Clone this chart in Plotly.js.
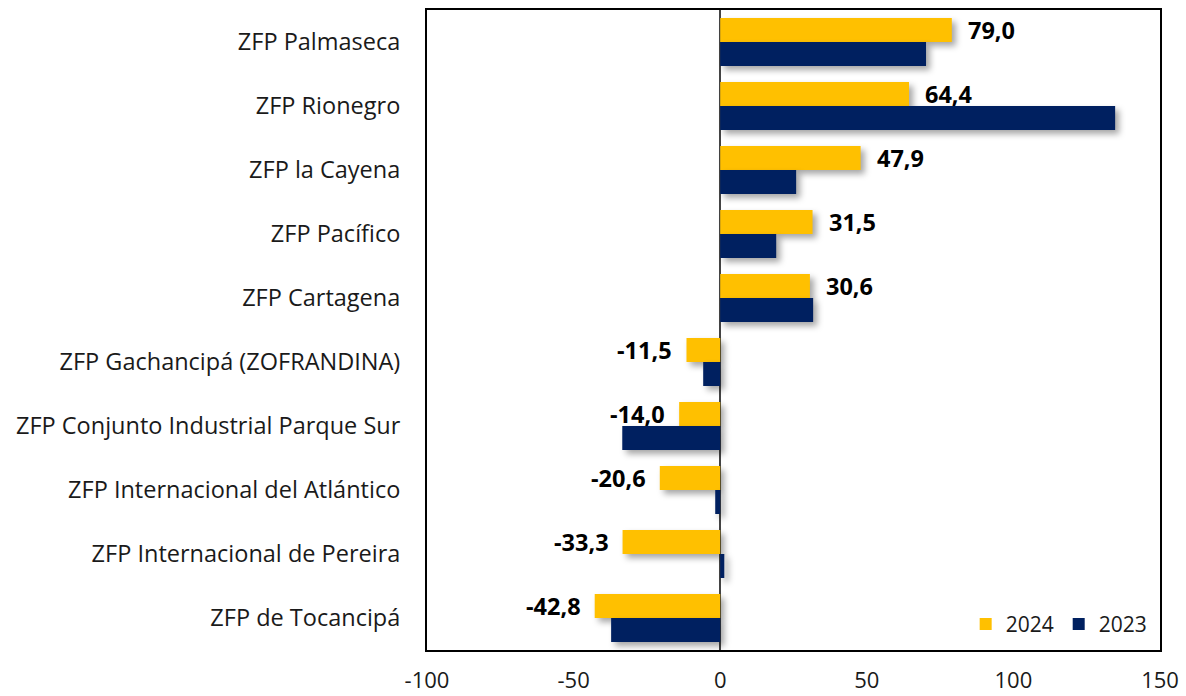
<!DOCTYPE html>
<html>
<head>
<meta charset="utf-8">
<script src="https://cdn.plot.ly/plotly-3.0.1.min.js"></script>
<style>
html,body{margin:0;padding:0;background:#fff;}
#chart{width:1186px;height:696px;}
#chart .trace.bars .point path{filter:drop-shadow(4px 4px 3px rgba(0,0,0,0.35));}
</style>
</head>
<body>
<div id="chart"></div>
<script>
const categories = [
  "ZFP Palmaseca",
  "ZFP Rionegro",
  "ZFP la Cayena",
  "ZFP Pacífico",
  "ZFP Cartagena",
  "ZFP Gachancipá (ZOFRANDINA)",
  "ZFP Conjunto Industrial Parque Sur",
  "ZFP Internacional del Atlántico",
  "ZFP Internacional de Pereira",
  "ZFP de Tocancipá"
];
const values2024 = [79.0, 64.4, 47.9, 31.5, 30.6, -11.5, -14.0, -20.6, -33.3, -42.8];
const values2023 = [70.2, 134.7, 25.9, 19.1, 31.7, -5.8, -33.4, -1.7, 1.4, -37.2];
const xTicks = [-100, -50, 0, 50, 100, 150];

const fmt = v => v.toFixed(1).replace('.', ',');

const traces = [
  {type:'bar', orientation:'h', name:'2024', y:categories, x:values2024,
   marker:{color:'#FFC000'}, hoverinfo:'x'},
  {type:'bar', orientation:'h', name:'2023', y:categories, x:values2023,
   marker:{color:'#002060'}, hoverinfo:'x'}
];

const annotations = categories.map((c, i) => ({
  x: values2024[i], y: c, xref:'x', yref:'y',
  text: '<b>' + fmt(values2024[i]) + '</b>',
  showarrow:false,
  xanchor: values2024[i] >= 0 ? 'left' : 'right',
  xshift: values2024[i] >= 0 ? 14 : -12,
  yshift: 12,
  font:{family:'Open Sans, sans-serif', size:23.5, color:'#000'}
}));

const layout = {
  width:1186, height:696,
  margin:{l:427, r:26, t:10, b:46},
  paper_bgcolor:'#fff', plot_bgcolor:'#fff',
  font:{family:'Open Sans, sans-serif', color:'#1a1a1a'},
  barmode:'group', bargap:0.25, bargroupgap:0,
  showlegend:true,
  legend:{orientation:'h', x:0.99, xanchor:'right', y:0.008, yanchor:'bottom',
          font:{size:21, color:'#1a1a1a'}, bgcolor:'rgba(0,0,0,0)', traceorder:'normal',
          itemwidth:30},
  xaxis:{range:[-100,150], tickvals:xTicks, ticktext:xTicks.map(String),
         showgrid:false, zeroline:true, zerolinecolor:'#444', zerolinewidth:1.5,
         showline:true, linecolor:'#000', linewidth:2, mirror:true,
         ticks:'outside', ticklen:10, tickcolor:'rgba(0,0,0,0)',
         tickfont:{size:22, color:'#1a1a1a'}, fixedrange:true},
  yaxis:{autorange:'reversed', showgrid:false,
         showline:true, linecolor:'#000', linewidth:2, mirror:true,
         ticks:'outside', ticklen:20, tickcolor:'rgba(0,0,0,0)',
         tickfont:{size:23.5, color:'#1a1a1a'}, fixedrange:true},
  annotations: annotations
};

Plotly.newPlot('chart', traces, layout, {displayModeBar:false, staticPlot:true});
</script>
</body>
</html>
